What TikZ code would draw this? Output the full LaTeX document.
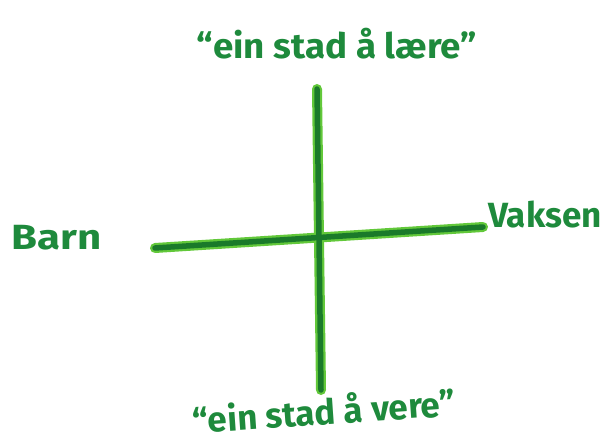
\documentclass[tikz,border=0pt]{standalone}
\usepackage{fontspec}
\setmainfont{Fira Sans}
\definecolor{ink}{HTML}{1E8A3C}
\definecolor{dark}{HTML}{1A7A2A}
\definecolor{light}{HTML}{62C83A}
\begin{document}
\begin{tikzpicture}[x=1pt,y=-1pt,
  lbl/.style={text=ink,font=\fontsize{35}{40}\selectfont\bfseries,inner sep=0pt},
  marker/.style={line width=10pt,light,line cap=round},
  markercore/.style={line width=5.5pt,dark,line cap=round}]
\useasboundingbox (0,0) rectangle (604,443);
\coordinate (vt) at (317,89);
\coordinate (vb) at (321,390);
\coordinate (hl) at (155,248);
\coordinate (hr) at (483,227);
\draw[marker] (vt) -- (vb);
\draw[marker] (hl) -- (hr);
\draw[markercore] (vt) -- (vb);
\draw[markercore] (hl) -- (hr);
\node[lbl,xscale=1.05] (top) at (337,44) {“ein stad å lære”};
\node[lbl,rotate=4] (bot) at (324,410) {“ein stad å vere”};
\node[lbl,xscale=1.2] (barn) at (57,238) {Barn};
\node[lbl] (vaksen) at (545,215) {Vaksen};
\end{tikzpicture}
\end{document}
